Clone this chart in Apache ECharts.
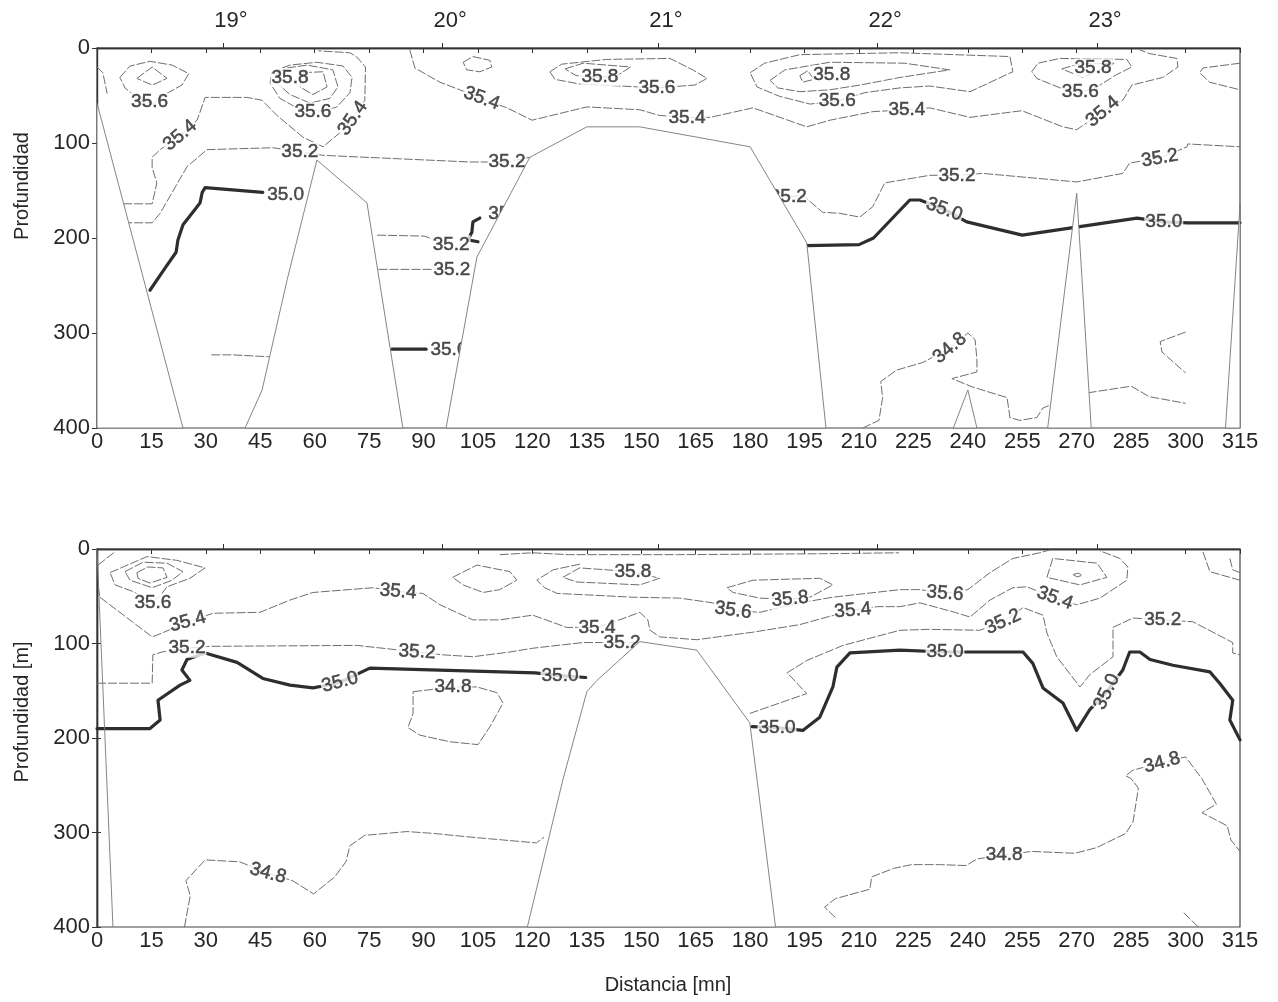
<!DOCTYPE html>
<html>
<head>
<meta charset="utf-8">
<script src="https://cdn.jsdelivr.net/npm/echarts@6/dist/echarts.min.js"></script>
<style>
html,body{margin:0;padding:0;background:#fff}
#chart{width:1278px;height:1002px}
</style>
</head>
<body>
<div id="chart"></div>
<script>
// Axis extents (distance in nautical miles, depth in metres)
const distRange = [0, 315];
const distStep = 15;
const depthRange = [0, 400];
const depthStep = 100;
// Longitude marks along the section
const degreePos = [34.7, 95.1, 154.6, 215.0, 275.6];
const degreeNames = ['19°', '20°', '21°', '22°', '23°'];

// ---------- upper section: isohaline traces [distance, depth] ----------
const upEdge = [[0,20],[1.6,26],[2.8,48]];
const upB1In = [[11,32],[15.2,20],[19.3,32],[15.2,39],[11,32]];
const upB1Out = [[6.3,31],[9.1,19],[14.6,14],[20.7,18],[25.3,27],[23.4,39],[18.7,49],[15.4,59],[11.8,55],[7.7,42],[6.3,31]];
const up354a = [[7.2,164],[15.2,164],[16.5,142],[15.2,126],[15.2,115],[17.4,107],[22.9,92],[27.6,76],[29.8,52],[41.3,52],[45.5,55],[49.6,71],[56.8,94],[62.3,104],[67,89],[70.5,74],[73.8,55],[74,20],[71.6,9.5],[69.7,5],[61,3]];
const up352a = [[7.2,184],[15.2,184],[17.4,174],[24.8,125],[30.3,107],[48.5,105],[55.9,109],[62.3,113],[102.8,120],[113,120],[119.3,115]];
const up350a = [[14.6,255],[18.7,232],[21.8,215],[22.3,202],[23.7,186],[27,170],[28.4,163],[29,152],[29.8,147],[45.7,152]];
const upB2In = [[56.8,26],[62.3,25],[63.4,41],[59.5,49],[55.9,41],[56.8,26]];
const upB2Mid = [[49.6,26],[52.4,21],[57.9,18],[65,23],[66.4,41],[64.2,53],[58.7,58],[53.2,49],[49.6,37],[49.6,26]];
const upB2Out = [[48.2,25],[53.2,18],[60.6,15],[67.8,19],[70.3,31],[69.7,47],[66.1,62],[62.3,67],[55.1,63],[50.4,53],[47.7,37],[48.2,25]];
const upSmall = [[100.9,15],[103.6,9],[108.3,13],[108.8,20],[105.5,25],[101.9,23],[100.9,15]];
const up354b = [[86.2,2],[87.6,21],[94.5,36],[100,44],[106,53],[113,63],[119.9,76],[135,62],[149.6,65],[155,71],[162.6,73],[169,73],[180.8,63],[195.6,83],[202,76],[213.8,67],[223.2,65],[229.5,63],[240.6,73],[254.9,66],[266.2,83],[270,86],[277.2,67],[282.7,55],[285.2,39],[293.7,31],[297.9,20],[297.6,11],[290.2,6],[287.4,2]];
const upB3Out = [[124.8,25],[128.1,17],[140.5,12],[157.9,11],[164.2,23],[168.1,32],[164.8,39],[154.3,42],[144.1,40],[133.1,38],[126.2,33],[124.8,25]];
const upB3In = [[129,22],[134,16],[147,20],[143,30],[138.6,31],[132,29],[129,22]];
const upB4Out = [[180,26],[184,16],[193.7,7],[221,5],[251.6,9],[252.4,25],[240.6,46],[229.5,40],[221.3,42],[211.6,47],[204,56],[196.5,59],[188.2,51],[181.9,41],[180,26]];
const upB4Mid = [[185.5,34],[189.6,23],[202,15],[222.6,16],[235,23],[221.3,31],[210.3,39],[202,44],[193.7,46],[187.6,42],[185.5,34]];
const upB4In = [[193.7,29],[195.9,24],[197.6,33],[194.5,36],[193.7,29]];
const upB5Out = [[257.6,25],[259.3,16],[265.4,11],[283.8,12],[285.2,20],[281,28],[275.6,41],[270.9,47],[265.4,42],[259,32],[257.6,25]];
const upB5In = [[265.9,22],[270.3,17],[280.5,16],[276.4,23],[271.7,31],[265.9,22]];
const upRim = [[315,16],[304.8,21],[303.9,26],[306.6,36],[315,44]];
const up352b = [[188,155],[190.5,157],[194.5,155],[200,173],[204.7,174],[210.2,178],[213.8,167],[217.1,142],[229.5,134],[237,134],[244.1,132],[270,141],[282.7,132],[284.6,121],[292.9,116],[300.4,104],[300.6,101],[315,104]];
const up350b = [[195.6,208],[210,207],[214,200],[224,160],[226.8,160],[233.5,170],[239.7,183],[255,197],[269,189],[286.6,179],[294,183],[300.6,184],[315,184]];
const up352c = [[77.2,197],[90.2,198],[94,203]];
const up352d = [[77.6,233],[91.2,233],[96,233]];
const up350c = [[105.5,179],[103.6,183],[103.3,194],[102.2,202],[105,204]];
const up350d = [[81.3,317],[90.7,317]];
const up348a = [[31.5,323],[37.3,323],[37.8,325],[47.4,325]];
const up348b = [[211,400],[215.5,392],[216.5,368],[216,351],[220.4,339],[227.6,331],[235,316],[240,300],[242,307],[242.5,328],[242.5,341],[235.6,348],[241.4,357],[250.8,368],[251.6,389],[254.3,392],[259,389],[260.7,379],[262.6,376]];
const up348c = [[273,363],[285,356],[290,367],[300,374]];
const up348d = [[300,299],[293,309],[293.5,320],[300,342]];

// blank (no data) areas of the upper section
const upBlank = [
  [[0,58],[23.7,400],[0,400]],
  [[40.8,400],[45.5,360],[52.4,244],[60.6,118],[74.4,163],[84.3,400]],
  [[96.2,400],[104.7,220],[119.3,115],[135,83],[149.6,83],[180,104],[195.6,205],[200.9,400]],
  [[236,400],[240,360],[242.5,400]],
  [[262,400],[270,153],[274,400]],
  [[311,400],[315,165],[315,400]]
];

// contour labels of the upper section [distance, depth, salinity]
const upLabelPts = [
  [14.5,57,35.6],[53.2,31,35.8],[59.5,67,35.6],[22.9,92,35.4],[70.5,74,35.4],
  [55.9,109,35.2],[52,155,35.0],[106,53,35.4],[138.6,30,35.8],[154.3,42,35.6],
  [162.6,73,35.4],[113,120,35.2],[112.9,175,35.0],[97.6,207,35.2],[97.8,233,35.2],
  [97,318,35.0],[202.5,28,35.8],[204,56,35.6],[223.2,65,35.4],[190.5,157,35.2],
  [237,134,35.2],[233.5,170,35.0],[274.5,21,35.8],[271,46,35.6],[277.2,67,35.4],
  [292.9,116,35.2],[294,183,35.0],[235,316,34.8]
];
const upLabelAngles = [0,0,0,40,55, 0,0,-20,0,0, 0,0,0,0,0, 0,0,0,0,0, 0,-20,0,0,40, 10,0,40];

// ---------- lower section ----------
const loArc = [[0.3,17],[4.9,3]];
const loB1In = [[11,25],[14,19],[18.2,20],[19.3,30],[14.6,36],[11.3,31],[11,25]];
const loB1Mid = [[7.7,24],[12.7,14],[19.3,15],[23.7,24],[20.7,33],[15.2,41],[9.1,33],[7.7,24]];
const loB1Out = [[3.6,25],[7.2,19],[13.8,8],[22,12],[29.8,20],[25.6,31],[19.3,40],[17.9,47],[15.4,57],[9.9,45],[5,38],[3.6,25]];
const lo354 = [[0.3,40],[0.8,51],[15.2,93],[17.9,89],[25,77],[32,68],[44.9,67],[53.2,54],[59.5,46],[76,41],[83,45],[89.8,47],[94.5,59],[103.6,75],[111,75],[120.1,70],[129.5,83],[137.8,83],[144.7,74],[149.6,67],[151.8,75],[152.4,86],[155.1,93],[165.3,96],[180.8,88],[193.7,80],[201.2,72],[208.3,65],[215,61],[221.3,61],[226.8,57],[236.4,67],[240.6,72],[246.1,54],[252.4,41],[256.3,40],[264,52],[270,59],[276.4,52],[283.8,33],[284.1,19],[281.9,10],[276.4,2]];
const loSmall = [[98,30],[104.7,17],[113.8,24],[115.7,33],[111,43],[106.4,46],[100.9,38],[98,30]];
const loTop = [[111,6],[120,4],[130,6],[160,6],[200,5],[221,4]];
const loB2In = [[128.4,30],[133,20],[147.7,24],[155,31],[149.6,38],[138.6,36],[132.3,35],[128.4,30]];
const lo356 = [[133.1,16],[125.7,22],[121.2,33],[123.4,41],[126.8,47],[147.7,51],[160.6,52],[169.7,57],[175.3,65],[182.7,67],[193.7,57],[202.8,51],[221.3,43],[226.8,43],[233.7,47],[240,43],[246.1,25],[252.4,10],[259.8,4],[262.6,1]];
const loB3In = [[173.6,41],[180.8,33],[199.2,31],[202.8,38],[196.5,51],[191,53],[182.7,52],[175.3,46],[173.6,41]];
const loB4In = [[261.8,30],[263.4,10],[275.6,15],[278.3,30],[270.9,38],[261.8,30]];
const loB4Dot = [[269,27],[270.5,25.5],[271.5,28],[270,29.5],[269,27]];
const loRimA = [[304.8,3],[306.7,24],[312.2,30],[315,33]];
const loRimB = [[312.2,10],[313,22],[315,25]];
const lo352a = [[0,142],[15.2,142],[15.4,112],[17.9,109],[24.8,105],[31.1,103],[71.6,102],[88.2,109],[95.3,112],[103.6,114],[113.8,109],[120.1,105],[133.9,99],[144.7,99],[150.5,99]];
const lo350a = [[0,190],[14.6,190],[17.4,181],[16.8,160],[22.9,144],[25.6,139],[23.4,128],[24.8,117],[28.4,112],[29.8,110],[38.6,120],[45.7,137],[53.2,144],[59.5,147],[62.3,145],[67,141],[75.2,126],[120.7,131],[127.6,134],[134.7,136]];
const lo348a = [[87.1,151],[98.1,146],[104.7,146],[110.2,152],[111.9,163],[108.3,188],[105,207],[97.3,204],[89,197],[85.7,189],[87.1,174],[87.1,151]];
const lo352b = [[179.9,174],[195.6,153],[190.2,131],[195.6,118],[205.6,102],[221.3,86],[229.5,85],[243.3,86],[249.7,77],[255.2,62],[260.7,70],[261.8,89],[264.5,114],[270.9,146],[273.6,133],[280,114],[280,83],[285.5,73],[293.7,75],[302,77],[313,99],[313,110],[315,112]];
const lo350b = [[180.5,188],[187.4,189],[194.5,192],[199.2,178],[202.8,146],[203.9,125],[207.5,110],[221.3,107],[233.7,109],[240.6,109],[255.2,109],[257.9,121],[260.7,147],[266.2,163],[270,192],[273.6,170],[278.3,151],[282.7,128],[284.6,109],[287.4,109],[290.2,117],[296.5,123],[306.7,130],[309.4,142],[313,160],[312.2,181],[315,202]];
const lo348b = [[24.1,400],[25.7,367],[24.5,351],[29.8,329],[39.3,331],[47.1,343],[53.9,351],[59.7,365],[65.5,347],[68.6,331],[69.7,314],[73.8,303],[85.4,299],[92.8,301],[103.3,305],[121.1,311],[123.2,305]];
const lo348c = [[203.5,390],[200.5,379],[203.5,370],[213,360],[213.5,347],[219.5,338],[224.5,334],[232.5,334],[239.5,335],[242.5,328],[250,324],[257.5,320],[269.5,322],[275.5,316],[283.5,301],[285.5,289],[287,253],[285,243],[283.5,240],[285.5,234],[293.5,226],[300,220],[304.5,243],[308.5,270],[304.5,279],[311.5,293],[312.5,308],[315,320]];
const lo348d = [[299.5,385],[303.5,400]];
// station track line along the western edge
const loEdge = [[0,0],[4.4,400]];

const loBlank = [
  [[118.6,400],[128.4,244],[135,151],[137.8,139],[149.6,98],[165.3,107],[179.9,184],[181.9,244],[187,400]]
];

const loLabelPts = [
  [15.4,57,35.6],[25,77,35.4],[83,45,35.4],[24.8,105,35.2],[88.2,109,35.2],
  [67,141,35.0],[98.1,146,34.8],[127.6,134,35.0],[137.8,83,35.4],[144.7,99,35.2],
  [147.7,24,35.8],[175.3,65,35.6],[191,53,35.8],[208.3,65,35.4],[187.4,189,35.0],
  [233.7,47,35.6],[264,52,35.4],[249.7,77,35.2],[293.7,75,35.2],[233.7,109,35.0],
  [278.3,151,35.0],[47.1,343,34.8],[250,324,34.8],[293.5,226,34.8]
];
const loLabelAngles = [0,15,-5,0,-3, 15,0,0,0,0, 0,-8,5,5,0, -5,-20,25,0,0, 65,-15,0,15];

// [trace, salinity level]
const upTraces = [
  [upEdge,35.6],[upB1In,35.8],[upB1Out,35.6],[up354a,35.4],[up352a,35.2],[up350a,35.0],
  [upB2In,36.0],[upB2Mid,35.8],[upB2Out,35.6],[upSmall,35.6],[up354b,35.4],
  [upB3Out,35.6],[upB3In,35.8],[upB4Out,35.6],[upB4Mid,35.8],[upB4In,36.0],
  [upB5Out,35.6],[upB5In,35.8],[upRim,35.6],[up352b,35.2],[up350b,35.0],
  [up352c,35.2],[up352d,35.2],[up350c,35.0],[up350d,35.0],
  [up348a,34.8],[up348b,34.8],[up348c,34.8],[up348d,34.8]
];
const loTraces = [
  [loArc,35.6],[loB1In,36.0],[loB1Mid,35.8],[loB1Out,35.6],[lo354,35.4],[loSmall,35.6],
  [loTop,35.8],[loB2In,35.8],[lo356,35.6],[loB3In,35.8],[loB4In,35.8],[loB4Dot,36.0],
  [loRimA,35.6],[loRimB,35.8],[lo352a,35.2],[lo350a,35.0],[lo348a,34.8],[lo352b,35.2],
  [lo350b,35.0],[lo348b,34.8],[lo348c,34.8],[lo348d,34.8]
];

const FONT = 'Liberation Sans, Arial, sans-serif';
const INK = '#262626';
const THIN = '#6e6e6e';

function traceSeries(trace, level, gi) {
  const bold = level === 35.0;
  return {
    type: 'line', xAxisIndex: gi, yAxisIndex: gi, data: trace,
    symbol: 'none', silent: true, animation: false, z: 2, clip: true,
    lineStyle: bold ? {color: '#2e2e2e', width: 3.2, cap: 'round', join: 'round'}
                    : {color: THIN, width: 1, type: [9, 2]}
  };
}

function edgeSeries(trace, gi) {
  return {
    type: 'line', xAxisIndex: gi, yAxisIndex: gi, data: trace,
    symbol: 'none', silent: true, animation: false, z: 2,
    lineStyle: {color: '#777', width: 0.9}
  };
}

function labelSeries(pts, angles, gi) {
  return {
    type: 'scatter', xAxisIndex: gi, yAxisIndex: gi, silent: true, animation: false,
    symbolSize: 1, itemStyle: {color: 'rgba(0,0,0,0)'}, z: 3,
    data: pts.map((p, i) => ({value: p, label: {rotate: angles[i]}})),
    label: {
      show: true, position: 'inside', formatter: (p) => p.value[2].toFixed(1),
      fontFamily: FONT, fontSize: 19, color: INK, textBorderColor: INK, textBorderWidth: 0.5,
      backgroundColor: '#fff', padding: [0, 1]
    }
  };
}

function blankSeries(polys, gi) {
  return {
    type: 'custom', xAxisIndex: gi, yAxisIndex: gi, silent: true, animation: false, z: 4,
    data: polys.map(p => p[0]),
    renderItem: (params, api) => ({
      type: 'polygon',
      shape: {points: polys[params.dataIndex].map(pt => api.coord(pt))},
      style: {fill: '#fff', stroke: '#777', lineWidth: 0.9}
    })
  };
}

const series = [];
upTraces.forEach(([t, lv]) => series.push(traceSeries(t, lv, 0)));
loTraces.forEach(([t, lv]) => series.push(traceSeries(t, lv, 1)));
series.push(edgeSeries(loEdge, 1));
series.push(labelSeries(upLabelPts, upLabelAngles, 0));
series.push(labelSeries(loLabelPts, loLabelAngles, 1));
series.push(blankSeries(upBlank, 0));
series.push(blankSeries(loBlank, 1));

const axisLbl = {fontFamily: FONT, fontSize: 22, color: INK};
const axisLn = {show: true, lineStyle: {color: '#333', width: 1.4}};

function distAxis(gi) {
  return {
    type: 'value', gridIndex: gi, min: distRange[0], max: distRange[1], interval: distStep,
    position: 'bottom', axisLine: axisLn,
    axisTick: {show: true, length: 5, lineStyle: {color: '#333'}},
    axisLabel: Object.assign({margin: 3}, axisLbl), splitLine: {show: false}
  };
}
function degAxis(gi, withLabels) {
  return {
    type: 'value', gridIndex: gi, min: distRange[0], max: distRange[1], position: 'top',
    axisLine: axisLn,
    axisTick: {show: true, length: 5, customValues: degreePos, lineStyle: {color: '#333'}},
    axisLabel: Object.assign({
      show: withLabels, margin: 16, customValues: degreePos, padding: [0, 0, 0, 16],
      formatter: (v) => degreeNames[degreePos.indexOf(v)]
    }, axisLbl),
    splitLine: {show: false}
  };
}
function depthAxis(gi) {
  return {
    type: 'value', gridIndex: gi, inverse: true, min: depthRange[0], max: depthRange[1],
    interval: depthStep, position: 'left', axisLine: axisLn,
    axisTick: {show: true, length: 5, lineStyle: {color: '#333'}},
    axisLabel: Object.assign({margin: 7}, axisLbl), splitLine: {show: false}
  };
}

const option = {
  backgroundColor: '#fff',
  animation: false,
  grid: [
    {left: 97, width: 1143, top: 48, height: 380, show: true, borderColor: '#444', borderWidth: 1.2, outerBoundsMode: 'none'},
    {left: 97, width: 1143, top: 549, height: 378, show: true, borderColor: '#444', borderWidth: 1.2, outerBoundsMode: 'none'}
  ],
  xAxis: [distAxis(0), distAxis(1), degAxis(0, true), degAxis(1, false)],
  yAxis: [
    depthAxis(0), depthAxis(1),
    {
      type: 'value', gridIndex: 1, inverse: true, min: depthRange[0], max: depthRange[1],
      interval: depthStep, position: 'right', axisLine: axisLn,
      axisTick: {show: true, length: 4, lineStyle: {color: '#333'}},
      axisLabel: {show: false}, splitLine: {show: false}
    }
  ],
  graphic: [
    {type: 'text', x: 22, y: 186, rotation: Math.PI / 2,
     style: {text: 'Profundidad', font: '20px ' + FONT, fill: INK, align: 'center', verticalAlign: 'middle'}},
    {type: 'text', x: 22, y: 712, rotation: Math.PI / 2,
     style: {text: 'Profundidad [m]', font: '20px ' + FONT, fill: INK, align: 'center', verticalAlign: 'middle'}},
    {type: 'text', x: 668, y: 985,
     style: {text: 'Distancia [mn]', font: '20px ' + FONT, fill: INK, align: 'center', verticalAlign: 'middle'}}
  ],
  series: series
};

const chart = echarts.init(document.getElementById('chart'), null, {renderer: 'canvas'});
chart.setOption(option);
</script>
</body>
</html>
